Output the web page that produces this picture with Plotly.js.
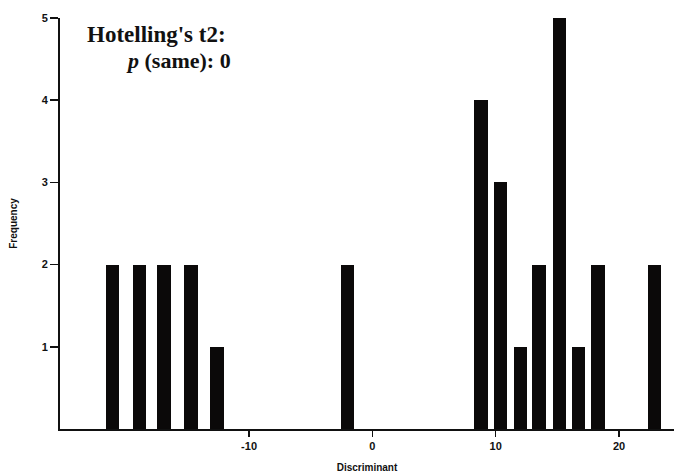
<!DOCTYPE html>
<html>
<head>
<meta charset="utf-8">
<script src="https://cdn.plot.ly/plotly-3.0.1.min.js"></script>
<style>html,body{margin:0;padding:0;background:#fff;}#chart{width:674px;height:476px;}</style>
</head>
<body>
<div id="chart"></div>
<script>
// Bar centres on the Discriminant axis and their frequencies
const discriminant = [-21.1, -18.9, -16.9, -14.7, -12.6, -2.0, 8.8, 10.4, 12.0, 13.5, 15.2, 16.7, 18.3, 22.9];
const frequency    = [2, 2, 2, 2, 1, 2, 4, 3, 1, 2, 5, 1, 2, 2];
const xTicks = [-10, 0, 10, 20];
const yTicks = [1, 2, 3, 4, 5];

const trace = {
  type: 'bar',
  x: discriminant,
  y: frequency,
  width: 1.08,
  marker: {color: '#0b0909', line: {width: 0}},
  hoverinfo: 'skip'
};

const tickFont = {family: 'Liberation Sans, Arial, sans-serif', size: 11, color: '#111', weight: 'bold'};

const layout = {
  width: 674, height: 476,
  margin: {l: 60, r: 0, t: 18, b: 47},
  paper_bgcolor: '#fff', plot_bgcolor: '#fff',
  showlegend: false,
  bargap: 0,
  xaxis: {
    range: [-25.33, 24.46],
    tickvals: xTicks,
    ticktext: xTicks.map(String),
    ticks: 'outside', ticklen: 6, tickwidth: 1.5, tickcolor: '#111',
    showline: true, linecolor: '#111', linewidth: 2,
    showgrid: false, zeroline: false,
    tickfont: tickFont,
    title: {text: '<b>Discriminant</b>', font: {family: 'Liberation Sans, Arial, sans-serif', size: 10, color: '#111'}, standoff: 13}
  },
  yaxis: {
    range: [0, 5],
    tickvals: yTicks,
    ticks: 'outside', ticklen: 8, tickwidth: 1.5, tickcolor: '#111',
    showline: true, linecolor: '#111', linewidth: 2,
    showgrid: false, zeroline: false,
    tickfont: tickFont,
    title: {text: '<b>Frequency</b>', font: {family: 'Liberation Sans, Arial, sans-serif', size: 10, color: '#111'}, standoff: 22}
  },
  annotations: [
    {xref: 'paper', yref: 'paper', x: 0.040, y: 0.961, xanchor: 'left', yanchor: 'middle', showarrow: false,
     text: "<b>Hotelling's t2:</b>", font: {family: 'Liberation Serif, Times New Roman, serif', size: 23, color: '#111'}},
    {xref: 'paper', yref: 'paper', x: 0.104, y: 0.896, xanchor: 'left', yanchor: 'middle', showarrow: false,
     text: "<b><i>p</i> (same): 0</b>", font: {family: 'Liberation Serif, Times New Roman, serif', size: 22, color: '#111'}}
  ]
};

Plotly.newPlot('chart', [trace], layout, {displayModeBar: false, staticPlot: true});
</script>
</body>
</html>
